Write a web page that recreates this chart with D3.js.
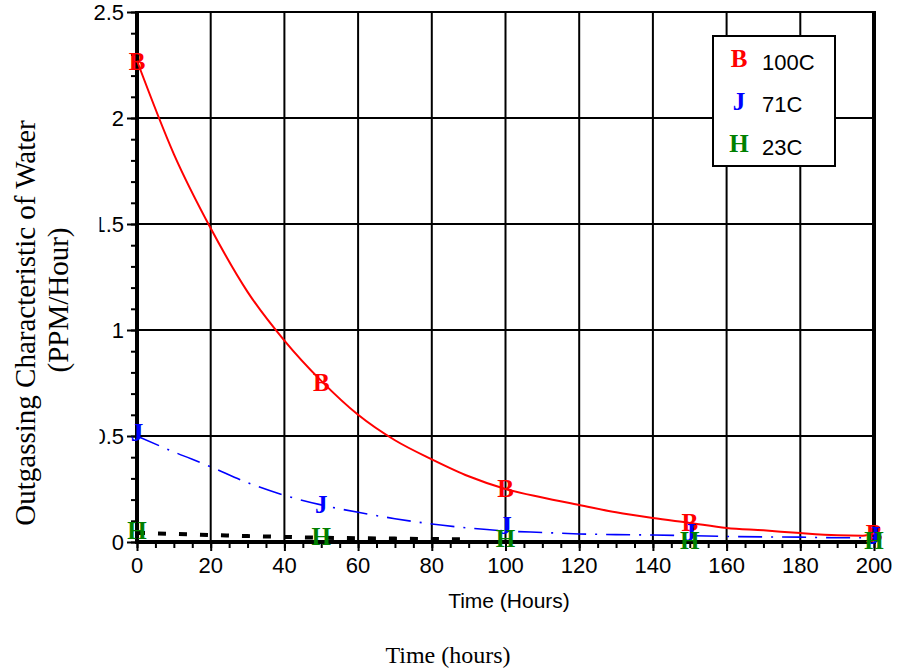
<!DOCTYPE html>
<html>
<head>
<meta charset="utf-8">
<script src="https://cdn.jsdelivr.net/npm/d3@7/dist/d3.min.js"></script>
<style>
  html, body { margin: 0; padding: 0; background: #fff; }
  svg { display: block; }
</style>
</head>
<body>
<svg id="chart" width="897" height="671"></svg>
<script>
// Measured outgassing points (hours, PPM/hour)
const hours = [0, 50, 100, 150, 200];
const water100C = [2.27, 0.755, 0.255, 0.094, 0.042];
const water71C = [0.52, 0.18, 0.08, 0.047, 0.035];
const water23C = [0.057, 0.03, 0.02, 0.01, 0.01];

// Fitted curves through each series
const fitHours = [0, 10, 20, 30, 40, 50, 60, 70, 80, 90, 100, 110, 120, 130, 140, 150, 160, 170, 180, 190, 197, 200];
const fit100C = [2.27, 1.83, 1.48, 1.18, 0.95, 0.76, 0.60, 0.48, 0.39, 0.31, 0.25, 0.21, 0.175, 0.14, 0.113, 0.09, 0.066, 0.055, 0.042, 0.032, 0.03, 0.042];
const fit71C = [0.50, 0.425, 0.355, 0.28, 0.22, 0.175, 0.14, 0.11, 0.085, 0.066, 0.052, 0.045, 0.038, 0.035, 0.033, 0.03, 0.026, 0.024, 0.023, 0.02, 0.02, 0.02];
const fit23Hours = [0, 10, 20, 30, 40, 50, 60, 70, 80, 88];
const fit23C = [0.043, 0.038, 0.033, 0.028, 0.024, 0.02, 0.018, 0.016, 0.014, 0.013];

// Axis ticks
const xTicks = [0, 20, 40, 60, 80, 100, 120, 140, 160, 180, 200];
const yTicks = [0, 0.5, 1, 1.5, 2, 2.5];
const yTickLabels = ["0", "0.5", "1", "1.5", "2", "2.5"];

const series = [
  { name: "100C", glyph: "B", color: "#ff0000", values: water100C },
  { name: "71C", glyph: "J", color: "#0000ff", values: water71C },
  { name: "23C", glyph: "H", color: "#008000", values: water23C }
];

const svg = d3.select("#chart");
const x = d3.scaleLinear().domain([0, 200]).range([137, 874]);
const y = d3.scaleLinear().domain([0, 2.5]).range([542, 12]);

const sans = "'Liberation Sans', Arial, sans-serif";
const serif = "'Liberation Serif', 'Times New Roman', serif";

// Grid
const grid = svg.append("g").attr("stroke", "#000").attr("stroke-width", 2);
grid.selectAll("line.v").data(xTicks.slice(1, -1)).join("line")
  .attr("x1", d => x(d)).attr("x2", d => x(d))
  .attr("y1", y(0)).attr("y2", y(2.5));
grid.selectAll("line.h").data(yTicks.slice(1, -1)).join("line")
  .attr("x1", x(0)).attr("x2", x(200))
  .attr("y1", d => y(d)).attr("y2", d => y(d));

// Frame: thin top, heavy left, bottom and right
svg.append("line").attr("x1", x(0)).attr("x2", x(200) + 2).attr("y1", y(2.5)).attr("y2", y(2.5))
  .attr("stroke", "#000").attr("stroke-width", 2);
svg.append("line").attr("x1", x(200)).attr("x2", x(200)).attr("y1", y(2.5) - 1).attr("y2", y(0))
  .attr("stroke", "#000").attr("stroke-width", 4);

// Y axis with major and minor ticks
const yAxis = svg.append("g").attr("transform", `translate(${x(0)},0)`);
yAxis.call(d3.axisLeft(y).tickValues(d3.range(0, 2.501, 0.1)).tickSize(6).tickFormat(""))
  .call(g => g.select(".domain").remove())
  .call(g => g.selectAll(".tick line").attr("stroke-width", 2));
yAxis.append("g")
  .call(d3.axisLeft(y).tickValues(yTicks).tickSize(10).tickFormat(""))
  .call(g => g.select(".domain").remove())
  .call(g => g.selectAll(".tick line").attr("stroke-width", 2));

// Y labels sit inside a clip that cuts the left edge below the top label
const defs = svg.append("defs");
const clip = defs.append("clipPath").attr("id", "ylabel-clip");
clip.append("rect").attr("x", 0).attr("y", 0).attr("width", 137).attr("height", 30);
clip.append("rect").attr("x", 99.5).attr("y", 30).attr("width", 38).attr("height", 560);
svg.append("g").attr("clip-path", "url(#ylabel-clip)")
  .selectAll("text").data(yTicks).join("text")
  .attr("x", x(0) - 13).attr("y", d => y(d)).attr("dy", "0.36em")
  .attr("text-anchor", "end")
  .attr("font-family", sans).attr("font-size", 22)
  .attr("fill", "#000")
  .text((d, i) => yTickLabels[i]);

svg.append("line").attr("x1", x(0)).attr("x2", x(0)).attr("y1", y(2.5) - 1).attr("y2", y(0) + 2)
  .attr("stroke", "#000").attr("stroke-width", 4);

// X axis
const xAxis = svg.append("g").attr("transform", `translate(0,${y(0)})`);
xAxis.call(d3.axisBottom(x).tickValues(d3.range(0, 201, 5)).tickSize(6).tickFormat(""))
  .call(g => g.select(".domain").remove())
  .call(g => g.selectAll(".tick line").attr("stroke-width", 2));
xAxis.append("g")
  .call(d3.axisBottom(x).tickValues(xTicks).tickSize(9).tickFormat(""))
  .call(g => g.select(".domain").remove())
  .call(g => g.selectAll(".tick line").attr("stroke-width", 2));
svg.append("g").selectAll("text").data(xTicks).join("text")
  .attr("x", d => x(d)).attr("y", y(0) + 31)
  .attr("text-anchor", "middle")
  .attr("font-family", sans).attr("font-size", 22)
  .attr("fill", "#000")
  .text(d => d);
svg.append("line").attr("x1", x(0) - 2).attr("x2", x(200) + 2).attr("y1", y(0)).attr("y2", y(0))
  .attr("stroke", "#000").attr("stroke-width", 4);

// Fitted curves
const line = d3.line().x(d => x(d[0])).y(d => y(d[1])).curve(d3.curveMonotoneX);
svg.append("path").datum(d3.zip(fitHours, fit100C)).attr("d", line)
  .attr("fill", "none").attr("stroke", "#ff0000").attr("stroke-width", 2);
svg.append("path").datum(d3.zip(fitHours, fit71C)).attr("d", line)
  .attr("fill", "none").attr("stroke", "#0000ff").attr("stroke-width", 1.6)
  .attr("stroke-dasharray", "24,9,2,9");
svg.append("path").datum(d3.zip(fit23Hours, fit23C)).attr("d", line)
  .attr("fill", "none").attr("stroke", "#000").attr("stroke-width", 4)
  .attr("stroke-dasharray", "8,13");

// Data markers
series.forEach(s => {
  svg.append("g").selectAll("text").data(d3.zip(hours, s.values)).join("text")
    .attr("x", d => x(d[0])).attr("y", d => y(d[1]))
    .attr("dy", "0.36em")
    .attr("text-anchor", "middle")
    .attr("font-family", serif).attr("font-weight", "bold").attr("font-size", 25)
    .attr("fill", s.color)
    .text(s.glyph);
});

// Legend
const legend = svg.append("g");
legend.append("rect").attr("x", 713).attr("y", 36).attr("width", 122).attr("height", 130)
  .attr("fill", "#fff").attr("stroke", "#000").attr("stroke-width", 2);
series.forEach((s, i) => {
  const cy = 58 + i * 42.5;
  legend.append("text").attr("x", 739).attr("y", cy).attr("dy", "0.36em")
    .attr("text-anchor", "middle")
    .attr("font-family", serif).attr("font-weight", "bold").attr("font-size", 25)
    .attr("fill", s.color).text(s.glyph);
  legend.append("text").attr("x", 762).attr("y", cy + 4).attr("dy", "0.36em")
    .attr("font-family", sans).attr("font-size", 22)
    .attr("fill", "#000").text(s.name);
});

// Axis titles
svg.append("text").attr("x", 509).attr("y", 608).attr("text-anchor", "middle")
  .attr("font-family", sans).attr("font-size", 21).text("Time (Hours)");
svg.append("text").attr("x", 448).attr("y", 663).attr("text-anchor", "middle")
  .attr("font-family", serif).attr("font-size", 24).text("Time (hours)");
svg.append("g").attr("transform", "translate(25,323) rotate(-90)")
  .append("text").attr("x", 0).attr("y", 10).attr("text-anchor", "middle")
  .attr("font-family", serif).attr("font-size", 29).text("Outgassing Characteristic of Water");
svg.append("g").attr("transform", "translate(58,300) rotate(-90)")
  .append("text").attr("x", 0).attr("y", 10).attr("text-anchor", "middle")
  .attr("font-family", serif).attr("font-size", 29).text("(PPM/Hour)");
</script>
</body>
</html>
